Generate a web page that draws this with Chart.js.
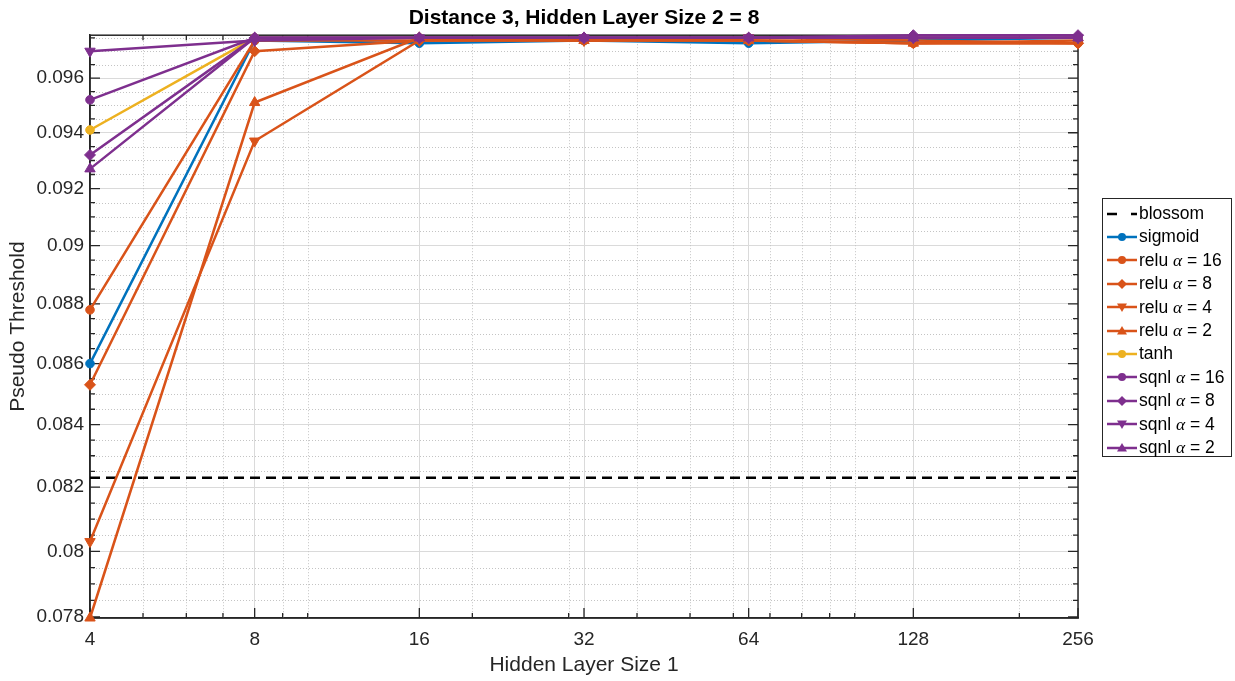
<!DOCTYPE html>
<html>
<head>
<meta charset="utf-8">
<script src="https://cdn.jsdelivr.net/npm/chart.js@4"></script>
<style>
  body { margin: 0; background: #fff; }
  #wrap { position: relative; width: 1235px; height: 681px; font-family: "Liberation Sans", Arial, sans-serif; }
  #legend { position: absolute; left: 1102px; top: 198px; width: 128px; height: 257px; border: 1px solid #262626; background: #fff; }
  .row { position: absolute; left: 0; height: 23px; display: flex; align-items: center; font-size: 17.5px; color: #000; white-space: nowrap; }
  .row canvas { margin-left: 2px; margin-right: 1px; }
  .row i { font-family: "Liberation Serif", serif; }
</style>
</head>
<body>
<div id="wrap">
  <canvas id="chart" width="1235" height="681"></canvas>
  <div id="legend"></div>
</div>
<script>
const FONT = '"Liberation Sans", Arial, sans-serif';

// hidden layer size 1 (x) and tick labels
const xValues = [4, 8, 16, 32, 64, 128, 256];
const xTickLabels = ['4', '8', '16', '32', '64', '128', '256'];
const xMinor = [5, 6, 7, 9, 10, 20, 30, 40, 50, 60, 70, 80, 90, 100, 200];

const yTicks = [0.078, 0.08, 0.082, 0.084, 0.086, 0.088, 0.09, 0.092, 0.094, 0.096];
const yTickLabels = ['0.078', '0.08', '0.082', '0.084', '0.086', '0.088', '0.09', '0.092', '0.094', '0.096'];
const yMinor = [0.0785, 0.079, 0.0795, 0.0805, 0.081, 0.0815, 0.0825, 0.083, 0.0835,
  0.0845, 0.085, 0.0855, 0.0865, 0.087, 0.0875, 0.0885, 0.089, 0.0895, 0.0905, 0.091, 0.0915,
  0.0925, 0.093, 0.0935, 0.0945, 0.095, 0.0955, 0.0965, 0.097, 0.0975];
const yMin = 0.07797;
const yMax = 0.0976;

// pseudo thresholds
const blossom = 0.0823;
const sigmoid = [0.0860, 0.0974, 0.0973, 0.0974, 0.0973, 0.0974, 0.0975];
const relu16 = [0.0878, 0.0974, 0.0974, 0.0974, 0.0974, 0.0973, 0.0973];
const relu8 = [0.0853, 0.0970, 0.0974, 0.0975, 0.0974, 0.0973, 0.0973];
const relu4 = [0.0803, 0.0937, 0.0974, 0.0974, 0.0975, 0.0974, 0.0973];
const relu2 = [0.07797, 0.0951, 0.0975, 0.0974, 0.0974, 0.0973, 0.0974];
const tanh = [0.0941, 0.0975, 0.0975, 0.0975, 0.0975, 0.0975, 0.0975];
const sqnl16 = [0.0952, 0.0975, 0.0975, 0.0975, 0.0975, 0.0975, 0.0975];
const sqnl8 = [0.0932, 0.0975, 0.0975, 0.0975, 0.0975, 0.0976, 0.0976];
const sqnl4 = [0.0970, 0.0974, 0.0975, 0.0975, 0.0975, 0.0975, 0.0975];
const sqnl2 = [0.0927, 0.0975, 0.0975, 0.0975, 0.0975, 0.0975, 0.0975];

const BLUE = '#0072BD', ORANGE = '#D95319', YELLOW = '#EDB120', PURPLE = '#7E2F8E';

const series = [
  { label: 'sigmoid', data: sigmoid, color: BLUE, marker: 'circle' },
  { label: 'relu <i>α</i> = 16', data: relu16, color: ORANGE, marker: 'circle' },
  { label: 'relu <i>α</i> = 8', data: relu8, color: ORANGE, marker: 'rectRot' },
  { label: 'relu <i>α</i> = 4', data: relu4, color: ORANGE, marker: 'down' },
  { label: 'relu <i>α</i> = 2', data: relu2, color: ORANGE, marker: 'triangle' },
  { label: 'tanh', data: tanh, color: YELLOW, marker: 'circle' },
  { label: 'sqnl <i>α</i> = 16', data: sqnl16, color: PURPLE, marker: 'circle' },
  { label: 'sqnl <i>α</i> = 8', data: sqnl8, color: PURPLE, marker: 'rectRot' },
  { label: 'sqnl <i>α</i> = 4', data: sqnl4, color: PURPLE, marker: 'down' },
  { label: 'sqnl <i>α</i> = 2', data: sqnl2, color: PURPLE, marker: 'triangle' }
];

const datasets = [{
  label: 'blossom',
  data: [{ x: xValues[0], y: blossom }, { x: xValues[xValues.length - 1], y: blossom }],
  borderColor: '#000', borderWidth: 2.5, borderDash: [10, 6], pointRadius: 0,
  order: series.length + 1, clip: false
}];
series.forEach((s, i) => {
  datasets.push({
    label: s.label,
    data: xValues.map((x, j) => ({ x: x, y: s.data[j] })),
    borderColor: s.color, backgroundColor: s.color,
    borderWidth: 2.5, tension: 0,
    pointStyle: s.marker === 'down' ? 'triangle' : s.marker,
    pointRotation: s.marker === 'down' ? 180 : 0,
    pointRadius: s.marker === 'circle' ? 4.3 : (s.marker === 'rectRot' ? 5.5 : 6),
    pointBorderWidth: 1,
    order: series.length - i, clip: false
  });
});

// minor dotted grid, inward ticks and box like the original axes
const axesDecor = {
  id: 'axesDecor',
  beforeDatasetsDraw(chart) {
    const { ctx, chartArea: a } = chart;
    const sx = chart.scales.x, sy = chart.scales.y;
    ctx.save();
    ctx.strokeStyle = '#c4c4c4';
    ctx.lineWidth = 1;
    ctx.setLineDash([1, 2]);
    ctx.beginPath();
    xMinor.forEach(v => {
      const p = Math.round(sx.getPixelForValue(v)) + 0.5;
      ctx.moveTo(p, a.top); ctx.lineTo(p, a.bottom);
    });
    yMinor.forEach(v => {
      const p = Math.round(sy.getPixelForValue(v)) + 0.5;
      ctx.moveTo(a.left, p); ctx.lineTo(a.right, p);
    });
    ctx.stroke();
    ctx.setLineDash([]);

    ctx.strokeStyle = '#262626';
    ctx.lineWidth = 1.3;
    ctx.beginPath();
    const xt = (list, len) => list.forEach(v => {
      const p = sx.getPixelForValue(v);
      ctx.moveTo(p, a.bottom); ctx.lineTo(p, a.bottom - len);
      ctx.moveTo(p, a.top); ctx.lineTo(p, a.top + len);
    });
    const yt = (list, len) => list.forEach(v => {
      const p = sy.getPixelForValue(v);
      ctx.moveTo(a.left, p); ctx.lineTo(a.left + len, p);
      ctx.moveTo(a.right, p); ctx.lineTo(a.right - len, p);
    });
    xt(xValues, 10); xt(xMinor, 5);
    yt(yTicks, 10); yt(yMinor, 5);
    ctx.stroke();

    ctx.lineWidth = 1.5;
    ctx.strokeRect(a.left, a.top, a.right - a.left, a.bottom - a.top);
    ctx.restore();
  }
};

new Chart(document.getElementById('chart'), {
  type: 'line',
  data: { datasets: datasets },
  options: {
    responsive: false,
    animation: false,
    layout: { padding: { left: 0, right: 157, top: 0, bottom: 0 } },
    plugins: {
      legend: { display: false },
      tooltip: { enabled: false },
      title: {
        display: true,
        text: 'Distance 3, Hidden Layer Size 2 = 8',
        fullSize: false,
        color: '#000',
        font: { family: FONT, size: 21, weight: 'bold' },
        padding: { top: 6, bottom: 4 }
      }
    },
    scales: {
      x: {
        type: 'logarithmic',
        min: 4, max: 256,
        afterBuildTicks: s => { s.ticks = xValues.map(v => ({ value: v })); },
        afterFit: s => { s.height = 63; },
        ticks: {
          callback: (v, i) => xTickLabels[i],
          color: '#262626', font: { family: FONT, size: 19 },
          padding: 10, maxRotation: 0, autoSkip: false
        },
        grid: { color: '#dadada', lineWidth: 1, drawTicks: false },
        border: { color: '#262626', width: 1.5 },
        title: {
          display: true, text: 'Hidden Layer Size 1', color: '#262626',
          font: { family: FONT, size: 21 }, padding: { top: 0, bottom: 3 }
        }
      },
      y: {
        type: 'logarithmic',
        min: yMin, max: yMax,
        afterBuildTicks: s => { s.ticks = yTicks.map(v => ({ value: v })); },
        afterFit: s => { s.width = 90; },
        ticks: {
          callback: (v, i) => yTickLabels[i],
          color: '#262626', font: { family: FONT, size: 19 },
          padding: 6, autoSkip: false
        },
        grid: { color: '#dadada', lineWidth: 1, drawTicks: false },
        border: { color: '#262626', width: 1.5 },
        title: {
          display: true, text: 'Pseudo Threshold', color: '#262626',
          font: { family: FONT, size: 21 }, padding: { top: 6, bottom: 0 }
        }
      }
    }
  },
  plugins: [axesDecor]
});

// legend with line + marker icons
function drawMarker(c, m, x, y) {
  c.beginPath();
  if (m === 'circle') {
    c.arc(x, y, 4, 0, Math.PI * 2);
  } else if (m === 'rectRot') {
    c.moveTo(x, y - 5); c.lineTo(x + 5, y); c.lineTo(x, y + 5); c.lineTo(x - 5, y);
  } else if (m === 'triangle') {
    c.moveTo(x, y - 5); c.lineTo(x + 5, y + 3.5); c.lineTo(x - 5, y + 3.5);
  } else if (m === 'down') {
    c.moveTo(x, y + 5); c.lineTo(x + 5, y - 3.5); c.lineTo(x - 5, y - 3.5);
  }
  c.closePath();
  c.fill();
}

const legendEl = document.getElementById('legend');
const legendRows = [{ label: 'blossom', color: '#000', marker: null }].concat(series);
legendRows.forEach((s, i) => {
  const row = document.createElement('div');
  row.className = 'row';
  row.style.top = (3 + 23.4 * i) + 'px';
  const cv = document.createElement('canvas');
  cv.width = 33; cv.height = 16;
  const c = cv.getContext('2d');
  c.strokeStyle = s.color; c.fillStyle = s.color;
  if (!s.marker) {
    c.lineWidth = 2.5;
    c.beginPath();
    c.moveTo(2, 8); c.lineTo(12, 8);
    c.moveTo(26, 8); c.lineTo(32, 8);
    c.stroke();
  } else {
    c.lineWidth = 2.5;
    c.beginPath(); c.moveTo(2, 8); c.lineTo(32, 8); c.stroke();
    drawMarker(c, s.marker, 17, 8);
  }
  row.appendChild(cv);
  const t = document.createElement('span');
  t.innerHTML = s.label;
  row.appendChild(t);
  legendEl.appendChild(row);
});
</script>
</body>
</html>
